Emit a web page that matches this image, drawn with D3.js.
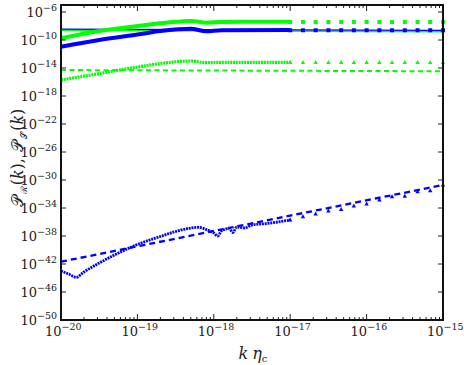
<!DOCTYPE html>
<html>
<head>
<meta charset="utf-8">
<script src="https://cdn.jsdelivr.net/npm/d3@7"></script>
<style>
  body { margin: 0; background: #fff; }
  text { font-family: "DejaVu Serif", serif; fill: #222; }
</style>
</head>
<body>
<div id="chart"></div>
<script>
// values are log10 exponents
const xTickExps = [-20, -19, -18, -17, -16, -15];
const yTickExps = [-50, -46, -42, -38, -34, -30, -26, -22, -18, -14, -10, -6];

// thick green solid (P_S, numerical)
const greenThickK = [-20, -19.5, -19, -18.6, -18.3, -18.1, -17.9, -17.5, -17];
const greenThickP = [-9.76, -8.71, -8.0, -7.5, -7.27, -7.53, -7.43, -7.4, -7.4];
// thick blue solid (P_R, numerical)
const blueThickK = [-20, -19.5, -19, -18.7, -18.3, -18.1, -17.9, -17];
const blueThickP = [-10.96, -10.0, -9.21, -8.71, -8.38, -8.76, -8.61, -8.57];
// thin horizontal lines
const thinK = [-20, -15];
const blueThinP = [-8.45, -8.62];
const greenThinP = [-8.6, -8.8];
// green dotted (triangles)
const greenDotK = [-20, -19.5, -19, -18.7, -18.3, -18.1, -17.9, -17];
const greenDotP = [-15.71, -14.79, -13.86, -13.36, -13.0, -13.24, -13.19, -13.19];
// green dashed
const greenDashK = [-20, -15];
const greenDashP = [-14.29, -14.47];
// blue dotted bottom (triangles)
const blueDotK = [-20, -19.9, -19.8, -19.7, -19.5, -19.3, -19.0, -18.7, -18.5, -18.3, -18.2, -18.1, -18.0,
  -17.95, -17.9, -17.8, -17.75, -17.7, -17.6, -17.5, -17.3, -17.0];
const blueDotP = [-43.0, -43.43, -43.9, -43.14, -41.86, -40.71, -39.21, -38.07, -37.36, -36.86, -36.76, -37.07, -37.57,
  -38.0, -37.29, -36.93, -37.5, -36.71, -36.86, -36.43, -36.21, -35.71];
// blue dashed power law
const blueDashK = [-20, -15];
const blueDashP = [-41.67, -30.71];
// markers beyond k eta = 1e-17
const markK = [-17, -16.833, -16.667, -16.5, -16.333, -16.167, -16, -15.833, -15.667, -15.5, -15.333, -15.167, -15];
const greenSquareP = [-7.43, -7.43, -7.43, -7.43, -7.43, -7.43, -7.43, -7.43, -7.43, -7.43, -7.43, -7.43, -7.43];
const blueSquareP = [-8.61, -8.61, -8.61, -8.61, -8.61, -8.61, -8.61, -8.61, -8.61, -8.61, -8.61, -8.61, -8.61];
const greenTriP = [-13.19, -13.19, -13.19, -13.19, -13.19, -13.19, -13.19, -13.19, -13.19, -13.19, -13.19, -13.19, -13.19];
const blueTriP = [-35.71, -35.24, -34.86, -34.43, -34.19, -33.71, -33.43, -32.86, -32.38, -32.29, -31.67, -31.52, -30.71];

const W = 464, H = 365;
const margin = { top: 5, right: 21, bottom: 45, left: 61 };
const width = W - margin.left - margin.right;
const height = H - margin.top - margin.bottom;

const GREEN = '#00ff00', BLUE = '#0000ff';

const svg = d3.select('#chart').append('svg')
  .attr('width', W).attr('height', H);
const g = svg.append('g').attr('transform', `translate(${margin.left},${margin.top})`);

const x = d3.scaleLog().domain([1e-20, 1e-15]).range([0, width]);
const y = d3.scaleLog().domain([1e-50, 1e-5]).range([height, 0]);

const pts = (ks, ps) => ks.map((k, i) => [Math.pow(10, k), Math.pow(10, ps[i])]);
const line = d3.line().x((d) => x(d[0])).y((d) => y(d[1])).curve(d3.curveMonotoneX);

const plot = g.append('g');
function drawLine(ks, ps, color, w, dash) {
  plot.append('path')
    .datum(pts(ks, ps))
    .attr('d', line)
    .attr('fill', 'none')
    .attr('stroke', color)
    .attr('stroke-width', w)
    .attr('stroke-dasharray', dash || null);
}

drawLine(thinK, greenThinP, GREEN, 1.6);
drawLine(thinK, blueThinP, BLUE, 1.3);
drawLine(greenDashK, greenDashP, GREEN, 2, '5,3.5');
drawLine(greenDotK, greenDotP, GREEN, 3.2, '2,0.8');
drawLine(greenThickK, greenThickP, GREEN, 4);
drawLine(blueThickK, blueThickP, BLUE, 4);
drawLine(blueDashK, blueDashP, BLUE, 2.3, '6,4');
drawLine(blueDotK, blueDotP, BLUE, 2.8, '2,0.8');

// square markers
function squares(ks, ps, color) {
  plot.append('g').selectAll('rect')
    .data(pts(ks, ps)).join('rect')
    .attr('x', (d) => x(d[0]) - 2).attr('y', (d) => y(d[1]) - 2)
    .attr('width', 4).attr('height', 4)
    .attr('fill', color);
}
function triangles(ks, ps, color) {
  plot.append('g').selectAll('path')
    .data(pts(ks, ps)).join('path')
    .attr('d', (d) => {
      const cx = x(d[0]), cy = y(d[1]);
      return `M${cx},${cy - 2.4}L${cx + 2.2},${cy + 1.6}L${cx - 2.2},${cy + 1.6}Z`;
    })
    .attr('fill', color);
}
squares(markK, greenSquareP, GREEN);
squares(markK, blueSquareP, BLUE);
triangles(markK, greenTriP, GREEN);
triangles(markK, blueTriP, BLUE);

// ticks
const ticksG = g.append('g').attr('stroke', '#222').attr('stroke-width', 1);
xTickExps.forEach((e) => {
  const xx = x(Math.pow(10, e));
  ticksG.append('line').attr('x1', xx).attr('x2', xx).attr('y1', height).attr('y2', height - 6);
  ticksG.append('line').attr('x1', xx).attr('x2', xx).attr('y1', 0).attr('y2', 6);
  if (e < -15) {
    for (let m = 2; m <= 9; m++) {
      const xm = x(m * Math.pow(10, e));
      ticksG.append('line').attr('x1', xm).attr('x2', xm).attr('y1', height).attr('y2', height - 3);
      ticksG.append('line').attr('x1', xm).attr('x2', xm).attr('y1', 0).attr('y2', 3);
    }
  }
});
yTickExps.forEach((e) => {
  const yy = y(Math.pow(10, e));
  ticksG.append('line').attr('x1', 0).attr('x2', 5).attr('y1', yy).attr('y2', yy);
  ticksG.append('line').attr('x1', width).attr('x2', width - 5).attr('y1', yy).attr('y2', yy);
});

// frame
g.append('rect')
  .attr('width', width).attr('height', height)
  .attr('fill', 'none').attr('stroke', '#111').attr('stroke-width', 2);

// tick labels
function powLabel(sel, e) {
  sel.append('tspan').text('10');
  sel.append('tspan').attr('dy', -6).attr('font-size', 9.5).text('\u2212' + Math.abs(e));
}
xTickExps.forEach((e) => {
  const t = g.append('text')
    .attr('x', x(Math.pow(10, e)) - 16)
    .attr('y', height + 16)
    .attr('font-size', 13);
  powLabel(t, e);
});
yTickExps.forEach((e) => {
  const t = g.append('text')
    .attr('x', -4)
    .attr('y', y(Math.pow(10, e)) + 5)
    .attr('text-anchor', 'end')
    .attr('font-size', 13);
  powLabel(t, e);
});

// axis titles
const xt = svg.append('text')
  .attr('x', 253).attr('y', 359)
  .attr('text-anchor', 'middle')
  .attr('font-size', 16);
xt.append('tspan').attr('font-style', 'italic').text('k');
xt.append('tspan').attr('font-style', 'italic').attr('dx', 4).text('\u03b7');
xt.append('tspan').attr('font-size', 10).attr('dy', 3).text('c');

const yt = svg.append('text')
  .attr('transform', 'translate(23,158) rotate(-90)')
  .attr('text-anchor', 'middle')
  .attr('font-size', 16);
yt.append('tspan').text('\ud835\udcab');
yt.append('tspan').attr('font-size', 9).attr('dx', 1).attr('dy', 4).text('\u211b');
yt.append('tspan').attr('dx', 1).attr('dy', -4).text('(');
yt.append('tspan').attr('font-style', 'italic').text('k');
yt.append('tspan').text('),\u2009');
yt.append('tspan').attr('dx', 3).text('\ud835\udcab');
yt.append('tspan').attr('font-size', 9).attr('dx', 1).attr('dy', 4).text('\ud835\udcae');
yt.append('tspan').attr('dx', 1).attr('dy', -4).text('(');
yt.append('tspan').attr('font-style', 'italic').text('k');
yt.append('tspan').text(')');
</script>
</body>
</html>
